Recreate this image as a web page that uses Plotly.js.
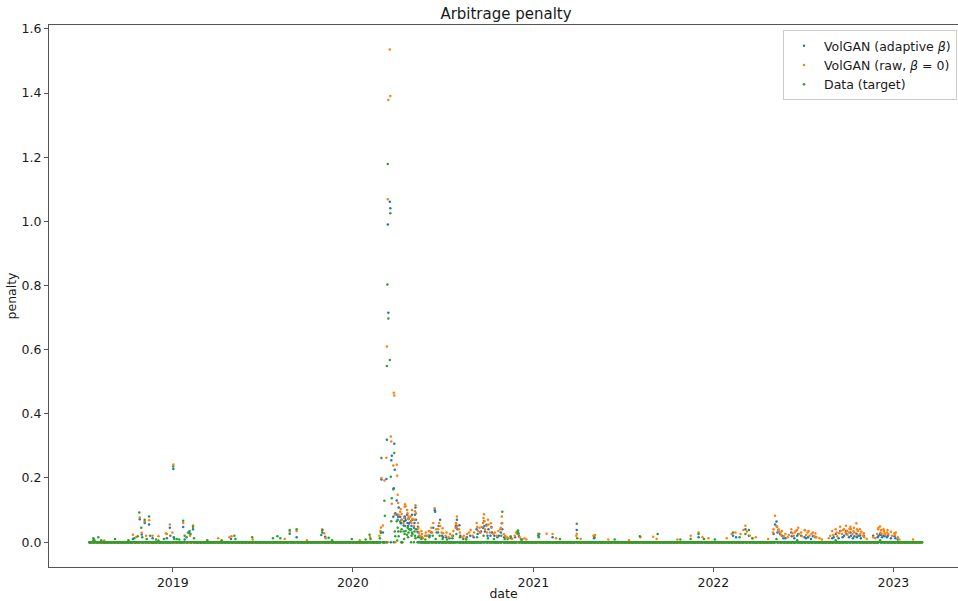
<!DOCTYPE html>
<html>
<head>
<meta charset="utf-8">
<script src="https://cdn.plot.ly/plotly-3.0.1.min.js"></script>
<style>html,body{margin:0;padding:0;background:#fff;}#chart{width:958px;height:601px;}</style>
</head>
<body>
<div id="chart"></div>
<script>
// ---- data ----
const seriesNames = ["VolGAN (adaptive <i>β</i>)", "VolGAN (raw, <i>β</i> = 0)", "Data (target)"];
const seriesColors = ["#1f77b4", "#ff7f0e", "#2ca02c"];
const firstDay = "2018-07-16";
const lastDay = "2023-02-28";
const yearTicks = ["2019", "2020", "2021", "2022", "2023"];
// on every other trading day the penalty sits on the 0.0 baseline
const baselineValue = 0.0;

const adaptivePts = [
["2018-07-24",0.005],["2018-10-12",0.01],["2018-10-26",0.071],["2018-10-30",0.024],["2018-11-05",0.06],["2018-11-14",0.055],["2018-11-21",0.012],["2018-12-20",0.012],["2018-12-26",0.045],["2019-01-02",0.228],["2019-01-03",0.015],["2019-01-22",0.047],["2019-01-25",0.008],["2019-02-04",0.028],["2019-02-11",0.04],
["2019-04-29",0.01],["2019-08-26",0.026],["2019-09-09",0.015],["2019-10-31",0.03],["2019-11-06",0.017],
["2020-02-27",0.03],["2020-02-28",0.195],["2020-03-02",0.03],["2020-03-09",0.197],["2020-03-10",0.319],["2020-03-12",0.99],["2020-03-13",0.715],["2020-03-16",1.061],["2020-03-17",1.041],["2020-03-19",0.255],["2020-03-20",0.269],["2020-03-23",0.079],["2020-03-24",0.168],["2020-03-25",0.307],["2020-03-26",0.226],["2020-03-27",0.09],["2020-03-30",0.13],["2020-03-31",0.085],
["2020-04-01",0.07],["2020-04-02",0.079],["2020-04-03",0.108],["2020-04-06",0.079],["2020-04-07",0.06],["2020-04-08",0.059],["2020-04-09",0.07],["2020-04-13",0.052],["2020-04-14",0.065],["2020-04-15",0.08],["2020-04-16",0.075],["2020-04-17",0.068],["2020-04-20",0.085],["2020-04-21",0.06],["2020-04-22",0.05],["2020-04-23",0.072],["2020-04-24",0.058],["2020-04-27",0.063],["2020-04-28",0.04],["2020-04-29",0.05],["2020-04-30",0.085],["2020-05-01",0.07],["2020-05-04",0.045],["2020-05-05",0.06],["2020-05-06",0.085],["2020-05-07",0.108],["2020-05-08",0.07],["2020-05-11",0.032],["2020-05-12",0.048],["2020-05-13",0.03],["2020-05-14",0.02],["2020-05-15",0.015],["2020-05-20",0.015],["2020-05-28",0.02],
["2020-06-03",0.02],["2020-06-05",0.02],["2020-06-08",0.03],["2020-06-12",0.045],["2020-06-15",0.1],["2020-06-16",0.095],["2020-06-19",0.03],["2020-06-23",0.05],["2020-06-26",0.07],["2020-06-30",0.02],["2020-07-02",0.015],["2020-07-08",0.015],["2020-07-15",0.012],["2020-07-22",0.02],["2020-07-28",0.05],["2020-07-29",0.047],["2020-07-30",0.07],["2020-07-31",0.04],["2020-08-04",0.053],["2020-08-06",0.02],
["2020-08-12",0.01],["2020-08-19",0.015],["2020-08-26",0.02],["2020-09-02",0.015],["2020-09-08",0.04],["2020-09-10",0.025],["2020-09-15",0.03],["2020-09-17",0.033],["2020-09-21",0.045],["2020-09-23",0.066],["2020-09-24",0.05],["2020-09-25",0.033],["2020-09-28",0.054],["2020-09-30",0.02],["2020-10-02",0.04],["2020-10-06",0.02],["2020-10-08",0.047],["2020-10-09",0.03],["2020-10-14",0.02],["2020-10-20",0.015],["2020-10-23",0.02],["2020-10-27",0.03],["2020-10-29",0.059],["2020-10-30",0.04],["2020-11-03",0.015],["2020-11-10",0.01],["2020-11-17",0.012],["2020-11-25",0.015],["2020-11-30",0.025],["2020-12-03",0.018],["2020-12-09",0.008],
["2021-01-11",0.02],["2021-02-09",0.015],["2021-03-30",0.038],["2021-05-04",0.012],["2021-12-02",0.015],
["2022-02-10",0.02],["2022-02-16",0.015],["2022-03-07",0.04],["2022-03-14",0.02],["2022-05-03",0.025],["2022-05-06",0.055],["2022-05-09",0.064],["2022-05-10",0.048],["2022-05-11",0.03],["2022-05-13",0.035],["2022-05-16",0.025],["2022-05-20",0.02],["2022-05-23",0.012],["2022-05-27",0.012],["2022-06-08",0.03],["2022-06-09",0.018],["2022-06-14",0.012],["2022-06-20",0.02],["2022-06-22",0.025],["2022-06-28",0.02],["2022-07-05",0.015],["2022-07-08",0.012],["2022-07-12",0.015],["2022-07-18",0.01],["2022-07-22",0.018],["2022-07-27",0.015],
["2022-08-30",0.012],["2022-09-02",0.015],["2022-09-06",0.025],["2022-09-12",0.012],["2022-09-15",0.035],["2022-09-20",0.015],["2022-09-23",0.02],["2022-09-27",0.035],["2022-09-28",0.025],["2022-10-03",0.015],["2022-10-06",0.03],["2022-10-07",0.02],["2022-10-11",0.012],["2022-10-14",0.018],["2022-10-18",0.026],["2022-10-19",0.015],["2022-10-21",0.02],["2022-10-25",0.02],["2022-10-27",0.012],["2022-11-02",0.02],["2022-11-21",0.02],["2022-11-30",0.015],["2022-12-02",0.02],["2022-12-05",0.025],["2022-12-07",0.022],["2022-12-09",0.015],["2022-12-12",0.02],["2022-12-14",0.018],["2022-12-19",0.015],["2022-12-21",0.02],["2022-12-27",0.012],["2023-01-03",0.018],["2023-01-05",0.012],["2023-01-10",0.008]
];

const rawPts = [
["2018-07-25",0.008],["2018-08-15",0.005],["2018-10-12",0.023],["2018-10-19",0.016],["2018-10-26",0.077],["2018-10-30",0.029],["2018-11-05",0.065],["2018-11-08",0.02],["2018-11-14",0.068],["2018-11-21",0.02],["2018-12-03",0.018],["2018-12-18",0.028],["2018-12-20",0.025],["2018-12-26",0.055],["2018-12-31",0.03],["2019-01-02",0.242],["2019-01-22",0.06],["2019-02-05",0.02],["2019-02-11",0.052],
["2019-04-03",0.012],["2019-04-26",0.015],["2019-04-30",0.018],["2019-06-12",0.008],["2019-08-16",0.01],["2019-08-26",0.033],["2019-09-09",0.035],["2019-09-30",0.006],["2019-10-31",0.04],["2019-11-04",0.028],["2019-11-07",0.012],["2020-01-15",0.006],
["2020-02-05",0.015],["2020-02-24",0.02],["2020-02-26",0.035],["2020-02-27",0.046],["2020-02-28",0.2],["2020-03-02",0.052],["2020-03-05",0.192],["2020-03-09",0.263],["2020-03-10",0.61],["2020-03-12",1.069],["2020-03-13",1.378],["2020-03-16",1.536],["2020-03-17",1.391],["2020-03-18",0.329],["2020-03-19",0.314],["2020-03-20",0.12],["2020-03-23",0.239],["2020-03-24",0.466],["2020-03-25",0.457],["2020-03-26",0.085],["2020-03-30",0.241],["2020-03-31",0.207],["2020-04-01",0.148],
["2020-04-02",0.122],["2020-04-03",0.085],["2020-04-06",0.095],["2020-04-07",0.103],["2020-04-08",0.07],["2020-04-09",0.088],["2020-04-13",0.06],["2020-04-14",0.075],["2020-04-15",0.11],["2020-04-16",0.118],["2020-04-17",0.112],["2020-04-20",0.1],["2020-04-21",0.09],["2020-04-22",0.072],["2020-04-23",0.08],["2020-04-24",0.077],["2020-04-27",0.08],["2020-04-28",0.066],["2020-04-29",0.06],["2020-04-30",0.1],["2020-05-01",0.073],["2020-05-04",0.05],["2020-05-05",0.07],["2020-05-06",0.096],["2020-05-07",0.115],["2020-05-08",0.09],["2020-05-11",0.04],["2020-05-12",0.06],["2020-05-13",0.045],["2020-05-14",0.03],["2020-05-15",0.02],["2020-05-18",0.018],["2020-05-19",0.035],["2020-05-20",0.025],["2020-05-22",0.012],["2020-05-26",0.02],["2020-05-28",0.03],
["2020-06-01",0.02],["2020-06-03",0.035],["2020-06-05",0.034],["2020-06-08",0.045],["2020-06-10",0.03],["2020-06-12",0.06],["2020-06-15",0.106],["2020-06-18",0.04],["2020-06-22",0.04],["2020-06-24",0.06],["2020-06-26",0.05],["2020-06-29",0.03],["2020-07-01",0.043],["2020-07-02",0.028],["2020-07-07",0.02],["2020-07-09",0.03],["2020-07-13",0.015],["2020-07-16",0.025],["2020-07-20",0.02],["2020-07-23",0.035],["2020-07-27",0.045],["2020-07-28",0.06],["2020-07-29",0.057],["2020-07-30",0.08],["2020-07-31",0.05],["2020-08-03",0.04],["2020-08-05",0.03],
["2020-08-10",0.015],["2020-08-13",0.02],["2020-08-17",0.012],["2020-08-20",0.025],["2020-08-24",0.03],["2020-08-27",0.038],["2020-08-31",0.02],["2020-09-03",0.03],["2020-09-08",0.06],["2020-09-09",0.047],["2020-09-11",0.035],["2020-09-14",0.045],["2020-09-16",0.03],["2020-09-18",0.047],["2020-09-21",0.06],["2020-09-22",0.075],["2020-09-23",0.087],["2020-09-24",0.065],["2020-09-25",0.04],["2020-09-28",0.05],["2020-09-29",0.03],["2020-10-01",0.07],["2020-10-02",0.055],["2020-10-05",0.03],["2020-10-07",0.059],["2020-10-08",0.045],["2020-10-12",0.025],["2020-10-15",0.03],["2020-10-19",0.02],["2020-10-22",0.035],["2020-10-26",0.04],["2020-10-27",0.045],["2020-10-29",0.08],["2020-10-30",0.06],["2020-11-02",0.025],["2020-11-05",0.02],["2020-11-09",0.015],["2020-11-12",0.012],["2020-11-16",0.018],["2020-11-19",0.01],["2020-11-24",0.02],["2020-11-27",0.03],["2020-11-30",0.03],["2020-12-02",0.025],["2020-12-04",0.015],["2020-12-08",0.01],["2020-12-14",0.012],["2020-12-18",0.008],
["2021-01-11",0.026],["2021-01-28",0.026],["2021-02-09",0.025],["2021-02-16",0.012],["2021-03-29",0.02],["2021-03-30",0.026],["2021-04-07",0.01],["2021-05-03",0.02],["2021-05-06",0.022],["2021-06-02",0.008],["2021-07-14",0.006],["2021-08-06",0.015],["2021-09-01",0.017],["2021-09-08",0.01],["2021-10-20",0.008],["2021-11-16",0.02],["2021-12-02",0.03],["2021-12-10",0.015],["2021-12-22",0.012],
["2022-01-28",0.012],["2022-02-07",0.025],["2022-02-15",0.03],["2022-02-25",0.025],["2022-03-03",0.038],["2022-03-07",0.051],["2022-03-10",0.033],["2022-03-16",0.02],["2022-03-21",0.012],["2022-03-28",0.015],["2022-04-22",0.01],["2022-05-02",0.03],["2022-05-03",0.04],["2022-05-06",0.082],["2022-05-09",0.05],["2022-05-10",0.048],["2022-05-12",0.035],["2022-05-13",0.04],["2022-05-17",0.03],["2022-05-18",0.022],["2022-05-20",0.035],["2022-05-24",0.018],["2022-05-27",0.025],["2022-06-01",0.015],["2022-06-03",0.022],["2022-06-08",0.04],["2022-06-10",0.028],["2022-06-13",0.02],["2022-06-15",0.03],["2022-06-17",0.035],["2022-06-20",0.038],["2022-06-22",0.045],["2022-06-24",0.025],["2022-06-28",0.03],["2022-06-30",0.018],["2022-07-05",0.038],["2022-07-06",0.037],["2022-07-08",0.022],["2022-07-11",0.03],["2022-07-13",0.035],["2022-07-15",0.02],["2022-07-19",0.025],["2022-07-22",0.03],["2022-07-25",0.018],["2022-07-27",0.027],["2022-07-29",0.015],["2022-08-04",0.012],["2022-08-09",0.008],["2022-08-23",0.012],["2022-08-26",0.02],
["2022-08-30",0.035],["2022-09-01",0.022],["2022-09-06",0.04],["2022-09-08",0.03],["2022-09-09",0.018],["2022-09-13",0.028],["2022-09-15",0.048],["2022-09-16",0.035],["2022-09-19",0.025],["2022-09-21",0.038],["2022-09-23",0.04],["2022-09-26",0.03],["2022-09-27",0.051],["2022-09-29",0.035],["2022-09-30",0.022],["2022-10-03",0.03],["2022-10-04",0.042],["2022-10-06",0.048],["2022-10-07",0.04],["2022-10-10",0.025],["2022-10-12",0.035],["2022-10-13",0.045],["2022-10-14",0.03],["2022-10-18",0.059],["2022-10-19",0.04],["2022-10-20",0.022],["2022-10-21",0.035],["2022-10-25",0.04],["2022-10-26",0.025],["2022-10-28",0.032],["2022-10-31",0.02],["2022-11-02",0.028],["2022-11-03",0.015],["2022-11-08",0.01],["2022-11-21",0.015],["2022-11-25",0.012],["2022-11-29",0.025],["2022-12-01",0.04],["2022-12-02",0.045],["2022-12-05",0.049],["2022-12-06",0.03],["2022-12-07",0.038],["2022-12-08",0.025],["2022-12-12",0.04],["2022-12-13",0.035],["2022-12-14",0.028],["2022-12-16",0.022],["2022-12-19",0.03],["2022-12-20",0.038],["2022-12-22",0.025],["2022-12-27",0.032],["2022-12-29",0.02],["2023-01-03",0.028],["2023-01-04",0.022],["2023-01-06",0.03],["2023-01-10",0.015],["2023-01-13",0.008],["2023-02-10",0.008]
];

const targetPts = [
["2018-07-24",0.012],["2018-07-26",0.006],["2018-08-03",0.015],["2018-08-09",0.006],["2018-09-06",0.01],["2018-10-03",0.006],["2018-10-15",0.012],["2018-10-22",0.018],["2018-10-25",0.092],["2018-10-29",0.045],["2018-10-31",0.015],["2018-11-05",0.07],["2018-11-09",0.01],["2018-11-14",0.08],["2018-11-16",0.02],["2018-11-28",0.008],["2018-12-03",0.005],["2018-12-14",0.01],["2018-12-27",0.02],["2019-01-02",0.236],["2019-01-04",0.01],["2019-01-09",0.01],["2019-01-14",0.008],["2019-01-22",0.067],["2019-01-25",0.02],["2019-01-29",0.015],["2019-02-01",0.03],["2019-02-04",0.035],["2019-02-06",0.025],["2019-02-11",0.048],["2019-02-13",0.012],
["2019-03-12",0.006],["2019-04-10",0.006],["2019-05-06",0.02],["2019-05-08",0.01],["2019-06-11",0.015],["2019-07-23",0.012],["2019-08-01",0.018],["2019-08-07",0.012],["2019-08-26",0.038],["2019-09-09",0.04],["2019-10-29",0.022],["2019-10-31",0.037],["2019-11-13",0.014],["2019-11-20",0.006],["2019-12-30",0.01],
["2020-01-27",0.008],["2020-02-04",0.023],["2020-02-06",0.01],["2020-02-25",0.012],["2020-02-27",0.03],["2020-02-28",0.262],["2020-03-05",0.129],["2020-03-06",0.082],["2020-03-10",0.549],["2020-03-11",0.803],["2020-03-12",1.179],["2020-03-13",0.697],["2020-03-16",0.568],["2020-03-17",1.025],["2020-03-18",0.204],["2020-03-19",0.065],["2020-03-20",0.137],["2020-03-23",0.165],["2020-03-25",0.278],["2020-03-26",0.033],["2020-03-27",0.018],["2020-03-30",0.065],["2020-03-31",0.005],
["2020-04-01",0.045],["2020-04-02",0.033],["2020-04-03",0.018],["2020-04-06",0.064],["2020-04-07",0.033],["2020-04-09",0.04],["2020-04-13",0.033],["2020-04-14",0.01],["2020-04-15",0.025],["2020-04-16",0.05],["2020-04-17",0.035],["2020-04-20",0.023],["2020-04-21",0.045],["2020-04-22",0.015],["2020-04-23",0.03],["2020-04-24",0.04],["2020-04-27",0.038],["2020-04-29",0.02],["2020-04-30",0.03],["2020-05-01",0.025],["2020-05-05",0.033],["2020-05-06",0.02],["2020-05-07",0.012],["2020-05-08",0.04],["2020-05-12",0.015],["2020-05-19",0.01],["2020-05-27",0.008],
["2020-06-04",0.015],["2020-06-11",0.02],["2020-06-17",0.01],["2020-06-22",0.03],["2020-06-25",0.02],["2020-07-01",0.01],["2020-07-10",0.008],["2020-07-21",0.012],["2020-07-29",0.025],["2020-08-05",0.015],["2020-08-18",0.008],["2020-09-09",0.015],["2020-09-22",0.02],["2020-10-01",0.012],["2020-10-13",0.01],["2020-10-28",0.02],["2020-10-30",0.095],["2020-11-04",0.01],["2020-11-16",0.017],["2020-11-30",0.033],["2020-12-01",0.036],["2020-12-02",0.028],["2020-12-07",0.008],
["2021-01-12",0.015],["2021-01-13",0.025],["2021-02-24",0.01],["2021-03-30",0.057],["2021-03-31",0.012],["2021-05-05",0.015],["2021-06-15",0.008],["2021-08-05",0.018],["2021-09-10",0.025],["2021-10-26",0.008],["2021-11-16",0.01],["2021-12-02",0.025],["2021-12-13",0.01],
["2022-01-04",0.008],["2022-02-10",0.03],["2022-02-23",0.015],["2022-03-07",0.025],["2022-03-14",0.038],["2022-03-21",0.012],["2022-05-09",0.01],["2022-06-20",0.006],["2022-09-06",0.006],["2022-12-05",0.006]
];

// ---- build traces ----
function tradingDays(a, b) {
  const out = [];
  const [ya, ma, da] = a.split("-").map(Number);
  const [yb, mb, db] = b.split("-").map(Number);
  let t = Date.UTC(ya, ma - 1, da);
  const end = Date.UTC(yb, mb - 1, db);
  while (t <= end) {
    const d = new Date(t);
    const w = d.getUTCDay();
    if (w !== 0 && w !== 6) out.push(d.toISOString().slice(0, 10));
    t += 86400000;
  }
  return out;
}
const days = tradingDays(firstDay, lastDay);

function makeTrace(pts, i) {
  const m = new Map(pts);
  const x = [], y = [];
  days.forEach(d => { if (!m.has(d)) { x.push(d); y.push(baselineValue); } });
  pts.forEach(([d, v]) => { x.push(d); y.push(v); });
  return {
    type: "scatter", mode: "markers", x, y, name: seriesNames[i],
    marker: { color: seriesColors[i], size: 2.5, line: { width: 0 } },
    hoverinfo: "skip"
  };
}
const traces = [makeTrace(adaptivePts, 0), makeTrace(rawPts, 1), makeTrace(targetPts, 2)];

const font = { family: "DejaVu Sans, sans-serif", size: 12.5, color: "#1a1a1a" };
const layout = {
  width: 958, height: 601,
  margin: { l: 49, r: 0, t: 25, b: 34, pad: 0 },
  paper_bgcolor: "#ffffff", plot_bgcolor: "#ffffff",
  font: font,
  showlegend: true,
  title: { text: "Arbitrage penalty", font: { family: "DejaVu Sans, sans-serif", size: 15, color: "#1a1a1a" },
           xref: "container", x: 506 / 958, xanchor: "center", yref: "container", y: 1 - 14 / 601, yanchor: "middle" },
  xaxis: {
    type: "date", range: ["2018-04-25", "2023-05-12"],
    tickvals: yearTicks.map(y => y + "-01-01"), ticktext: yearTicks,
    ticks: "outside", ticklen: 4, tickwidth: 1, tickcolor: "#555",
    showline: true, linecolor: "#555", linewidth: 1, mirror: true,
    showgrid: false, zeroline: false, tickfont: font,
    title: { text: "date", font: font, standoff: 4 }
  },
  yaxis: {
    range: [-0.0775, 1.612], tick0: 0, dtick: 0.2, tickformat: ".1f",
    ticks: "outside", ticklen: 4, tickwidth: 1, tickcolor: "#555",
    showline: true, linecolor: "#555", linewidth: 1, mirror: false,
    showgrid: false, zeroline: false, tickfont: font,
    title: { text: "penalty", font: font, standoff: 2 }
  },
  legend: {
    x: (957 - 49) / 909, xanchor: "right", y: (567 - 30) / 542, yanchor: "top",
    bgcolor: "rgba(255,255,255,0.8)", bordercolor: "#cccccc", borderwidth: 1,
    font: font, itemsizing: "trace"
  }
};
Plotly.newPlot("chart", traces, layout, { staticPlot: true, displayModeBar: false });
</script>
</body>
</html>
